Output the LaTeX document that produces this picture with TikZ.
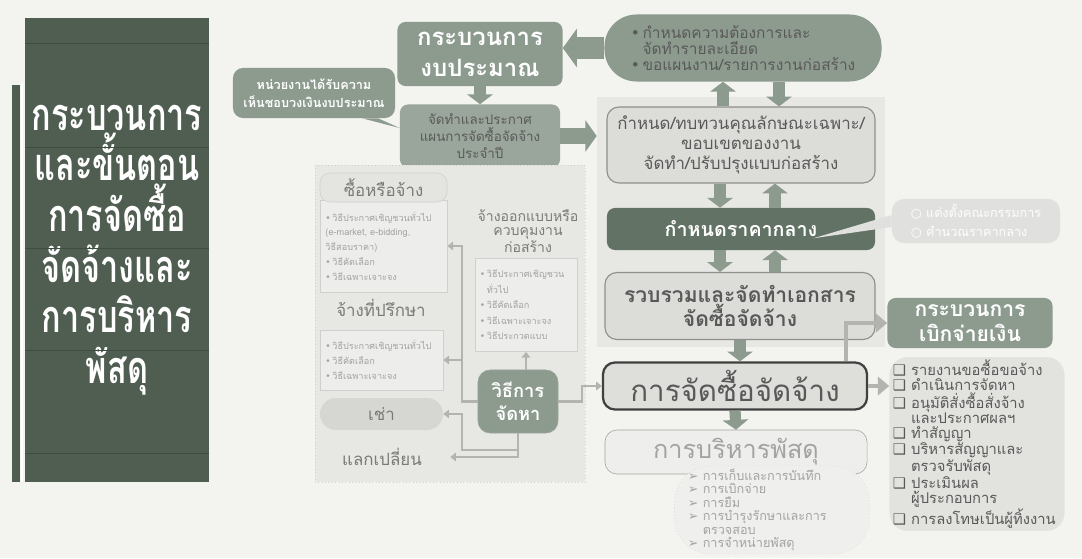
\documentclass[tikz,border=0pt]{standalone}
\usepackage{fontspec}
\setmainfont[Script=Thai]{Loma}
\newfontfamily\titlefont[Script=Thai,FakeStretch=0.72]{Loma}
\newfontfamily\sym{DejaVu Sans}
\usetikzlibrary{arrows.meta,calc}
\definecolor{paper}{HTML}{F3F3F0}
\definecolor{banner}{HTML}{4F5E51}
\definecolor{bannerline}{HTML}{3F4C41}
\definecolor{sage}{HTML}{8D9B8F}
\definecolor{sagelight}{HTML}{9AA69B}
\definecolor{darksage}{HTML}{627264}
\definecolor{boxfill}{HTML}{DCDCD9}
\definecolor{boxline}{HTML}{8F8F8D}
\definecolor{panelfill}{HTML}{E7E7E4}
\definecolor{ink}{HTML}{595959}
\definecolor{soft}{HTML}{7A7A78}
\definecolor{faint}{HTML}{A3A3A1}
\definecolor{wiregray}{HTML}{B3B3B0}
\definecolor{notefill}{HTML}{E0E0DE}
\definecolor{rim}{HTML}{D0D0CD}
\definecolor{sheetfill}{HTML}{EDEDEB}
\definecolor{tabfill}{HTML}{E4E4E1}
\definecolor{pillfill}{HTML}{D6D6D3}
\definecolor{buyfill}{HTML}{DEDEDB}
\definecolor{stepfill}{HTML}{E2E2DF}
\definecolor{assetfill}{HTML}{EEEEEC}
\definecolor{cloudfill}{HTML}{EFEFED}
\newcommand{\bul}{{\sym\char"2022}\,}
\newcommand{\tick}{{\sym\char"2751}\ }
\newcommand{\pointer}{{\sym\char"27A2}\ }
\tikzstyle{block}=[rectangle,rounded corners=0.2cm,align=center,inner sep=2pt]
\tikzstyle{dark}=[block,fill=sage,text=white,font=\bfseries\fontsize{17}{22}\selectfont]
\tikzstyle{pale}=[block,fill=boxfill,draw=boxline,line width=0.8pt,rounded corners=0.3cm,text=ink]
\tikzstyle{sheet}=[rectangle,fill=sheetfill,draw=rim,line width=0.6pt,align=left,text=faint,inner sep=3pt,font=\fontsize{6.5}{10.5}\selectfont]
\tikzstyle{fat}=[draw=sage,line width=8pt,-{Triangle[length=7pt,width=18pt]}]
\tikzstyle{wire}=[draw=wiregray,line width=1.5pt,-{Triangle[length=4pt,width=6pt]}]
\tikzstyle{feed}=[draw=wiregray,line width=3pt,-{Triangle[length=8pt,width=13pt]}]

\begin{document}
\begin{tikzpicture}[x=0.025cm,y=-0.025cm]
\fill[paper] (0,0) rectangle (1082,558);
\useasboundingbox (0,0) rectangle (1082,558);

\fill[banner] (12,85) rectangle (20,482);
\node[rectangle,fill=banner,minimum width=4.6cm,minimum height=11.6cm,inner sep=0pt,text=white,align=center,font=\titlefont\bfseries\fontsize{32}{36}\selectfont] (title) at (117,250) {กระบวนการ\\และขั้นตอน\\การจัดซื้อ\\จัดจ้างและ\\การบริหาร\\พัสดุ};
\foreach \y in {43,147,248,350,453} \draw[bannerline,line width=0.6pt] (25,\y) -- (209,\y);
\draw[white,line width=1.5pt] (22,83) -- (22,482);

\node[dark,minimum width=4.125cm,minimum height=1.6cm] (budget) at (480,54) {กระบวนการ\\งบประมาณ};
\node[block,fill=sagelight,minimum width=4cm,minimum height=1.575cm,text=ink,font=\fontsize{9.5}{12}\selectfont] (plan) at (480,136) {จัดทำและประกาศ\\แผนการจัดซื้อจัดจ้าง\\ประจำปี};
\node[block,rounded corners=0.25cm,fill=sage,minimum width=4.05cm,minimum height=1.25cm,text=white,font=\bfseries\fontsize{9}{13}\selectfont] (note) at (314,93) {หน่วยงานได้รับความ\\เห็นชอบวงเงินงบประมาณ};
\fill[sage] ([xshift=1.2cm]note.south) -- ([xshift=1.6cm]note.south) -- ([yshift=0.2cm]plan.west) -- cycle;
\node[block,rounded corners=0.8cm,fill=sage,minimum width=6.925cm,minimum height=1.675cm,text=ink,align=left,font=\fontsize{11}{11.5}\selectfont] (need) at (743,48) {\bul กำหนดความต้องการและ\\\phantom{\bul}จัดทำรายละเอียด\\\bul ขอแผนงาน/รายการงานก่อสร้าง};

\node[rectangle,fill=panelfill,minimum width=7.2cm,minimum height=6.25cm] (panel) at (741,222) {};
\node[pale,minimum width=6.7cm,minimum height=1.9cm,font=\fontsize{12}{14.2}\selectfont] (spec) at (741,145) {กำหนด/ทบทวนคุณลักษณะเฉพาะ/\\ขอบเขตของงาน\\จัดทำ/ปรับปรุงแบบก่อสร้าง};
\node[block,fill=darksage,minimum width=6.7cm,minimum height=1.05cm,text=white,font=\bfseries\fontsize{14}{16}\selectfont] (price) at (741,229) {กำหนดราคากลาง};
\node[block,rounded corners=0.3cm,fill=notefill,minimum width=4.2cm,minimum height=1.1cm,text=white,align=left,font=\fontsize{9}{13}\selectfont] (pricenote) at (976,221) {{\sym\char"25CB}\ แต่งตั้งคณะกรรมการ\\{\sym\char"25CB}\ คำนวณราคากลาง};
\fill[notefill] ([shift={(-1.55cm,0.3cm)}]price.south east) -- ([yshift=0.15cm]pricenote.west) -- ([yshift=-0.15cm]pricenote.west) -- cycle;
\node[pale,minimum width=6.75cm,minimum height=1.675cm,font=\bfseries\fontsize{15}{15.6}\selectfont] (docs) at (740,306) {รวบรวมและจัดทำเอกสาร\\จัดซื้อจัดจ้าง};
\node[dark,minimum width=4.125cm,minimum height=1.25cm,font=\bfseries\fontsize{15}{17.7}\selectfont] (pay) at (970,323) {กระบวนการ\\เบิกจ่ายเงิน};
\node[block,rounded corners=0.3cm,fill=buyfill,draw=black!75,line width=1.6pt,minimum width=6.6cm,minimum height=1.175cm,text=ink,font=\fontsize{21}{24}\selectfont] (buy) at (735,386) {การจัดซื้อจัดจ้าง};
\node[block,rounded corners=0.45cm,fill=stepfill,minimum width=4.375cm,minimum height=4.125cm,text=ink,align=left,text width=4.2cm,font=\fontsize{10.5}{10.6}\selectfont] (steps) at (977,444) {\tick รายงานขอซื้อขอจ้าง\\\tick ดำเนินการจัดหา\\\tick อนุมัติสั่งซื้อสั่งจ้าง\\\phantom{\tick}และประกาศผลฯ\\\tick ทำสัญญา\\\tick บริหารสัญญาและ\\\phantom{\tick}ตรวจรับพัสดุ\\\tick ประเมินผล\\\phantom{\tick}ผู้ประกอบการ\\\tick การลงโทษเป็นผู้ทิ้งงาน};
\node[block,rounded corners=0.3cm,fill=assetfill,draw=faint,minimum width=6.55cm,minimum height=1.1cm,text=faint,font=\fontsize{18}{20}\selectfont] (asset) at (736,452) {การบริหารพัสดุ};
\node[block,rounded corners=0.9cm,fill=cloudfill,draw=rim,dotted,minimum width=4.875cm,minimum height=2.075cm,align=left,text width=4.2cm,text=faint,font=\fontsize{9}{9.6}\selectfont] (cloud) at (772,510) {\pointer การเก็บและการบันทึก\\\pointer การเบิกจ่าย\\\pointer การยืม\\\pointer การบำรุงรักษาและการ\\\phantom{\pointer}ตรวจสอบ\\\pointer การจำหน่ายพัสดุ};

\draw[fat,line width=15pt,-{Triangle[length=10pt,width=27pt]}] (need.west) -- (need.west -| budget.east);
\draw[fat] (budget.south) -- (plan.north);
\draw[fat,line width=11pt,-{Triangle[length=8pt,width=22pt]}] (plan.east) -- (plan.east -| panel.west);
\draw[fat] ([xshift=-0.45cm]spec.north) -- ([xshift=-0.45cm]spec.north |- need.south);
\draw[fat] ([xshift=0.9cm]need.south) -- ([xshift=0.9cm]need.south |- spec.north);
\draw[fat] ([xshift=-0.525cm]spec.south) -- ([xshift=-0.525cm]price.north);
\draw[fat] ([xshift=0.85cm]price.north) -- ([xshift=0.85cm]spec.south);
\draw[fat] ([xshift=-0.525cm]price.south) -- ([xshift=-0.525cm]price.south |- docs.north);
\draw[fat] ([xshift=0.85cm]price.south |- docs.north) -- ([xshift=0.85cm]price.south);
\draw[fat] (docs.south) -- (docs.south |- buy.north);
\draw[fat] (buy.south) -- (asset.north);
\draw[feed] ($(buy.north east)+(-22,0)$) |- (pay.west);
\draw[feed] (buy.east) -- (buy.east -| steps.west);

\node[rectangle,fill=panelfill,draw=rim,dotted,minimum width=6.75cm,minimum height=7.925cm] (methods) at (450,323.5) {};
\node[sheet,minimum width=3.175cm,minimum height=2.3cm,text width=2.9cm] (buylist) at (383.5,246) {\bul วิธีประกาศเชิญชวนทั่วไป\\(e-market, e-bidding,\\วิธีสอบราคา)\\\bul วิธีคัดเลือก\\\bul วิธีเฉพาะเจาะจง};
\node[block,rounded corners=0.25cm,fill=tabfill,draw=rim,minimum width=3.175cm,minimum height=0.725cm,text=soft,font=\fontsize{12}{14}\selectfont] (buyhead) at (383.5,187.5) {ซื้อหรือจ้าง};
\node[text=soft,font=\fontsize{12}{14}\selectfont] (consult) at (381,308) {จ้างที่ปรึกษา};
\node[sheet,minimum width=3.075cm,minimum height=1.5cm,text width=2.8cm] (consultlist) at (381.5,360) {\bul วิธีประกาศเชิญชวนทั่วไป\\\bul วิธีคัดเลือก\\\bul วิธีเฉพาะเจาะจง};
\node[block,rounded corners=0.4cm,fill=pillfill,minimum width=3.075cm,minimum height=0.8cm,text=soft,font=\fontsize{12}{14}\selectfont] (rent) at (381.5,414) {เช่า};
\node[minimum width=3.4cm,text=soft,font=\fontsize{12}{14}\selectfont] (swap) at (382,457) {แลกเปลี่ยน};
\node[align=center,text=soft,font=\fontsize{10}{10}\selectfont] (designhead) at (528,231) {จ้างออกแบบหรือ\\ควบคุมงาน\\ก่อสร้าง};
\node[sheet,minimum width=2.55cm,minimum height=2.325cm,text width=2.3cm,font=\fontsize{6.5}{11}\selectfont] (designlist) at (526,305) {\bul วิธีประกาศเชิญชวน\\\phantom{\bul}ทั่วไป\\\bul วิธีคัดเลือก\\\bul วิธีเฉพาะเจาะจง\\\bul วิธีประกวดแบบ};
\node[block,rounded corners=0.3cm,fill=sage,draw=sagelight,minimum width=2cm,minimum height=1.575cm,text=white,font=\bfseries\fontsize{13}{16}\selectfont] (how) at (518,401.5) {วิธีการ\\จัดหา};

\coordinate (j1) at (462,360);
\draw[wire] (how.west) -| (462,246) -- (buylist.east);
\draw[wire] (j1) -- (consultlist.east);
\draw[wire] (how.south) |- (462,450) |- (rent.east);
\draw[wire] (how.south) |- (swap.east);
\draw[wire] (designlist.south |- how.north) -- (designlist.south);
\draw[wire] (how.east) -| (582,386) -- (buy.west);
\end{tikzpicture}
\end{document}
